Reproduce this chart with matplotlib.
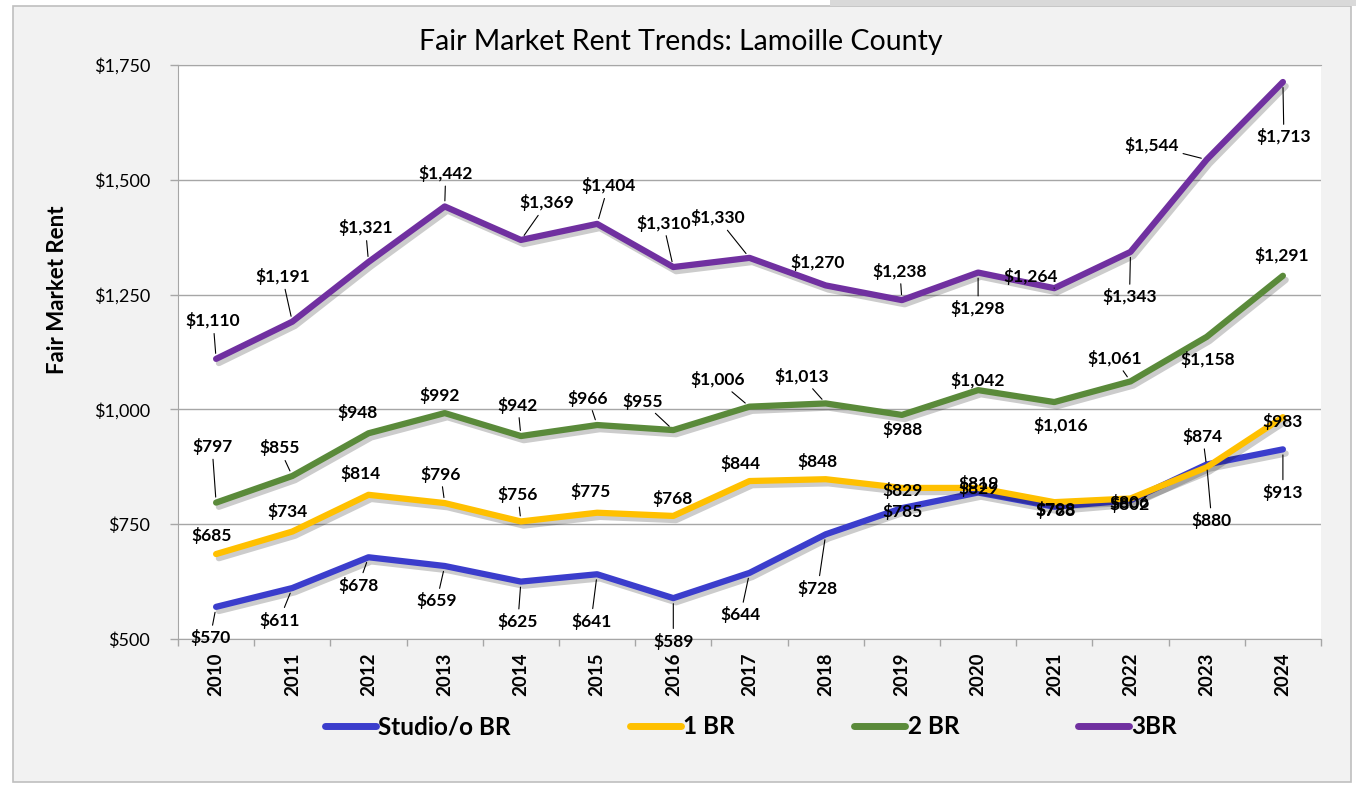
import numpy as np
import matplotlib
matplotlib.use("Agg")
import matplotlib.pyplot as plt
import matplotlib.patheffects as pe
from matplotlib.patches import Rectangle
from matplotlib.lines import Line2D
from matplotlib.ticker import FuncFormatter, FixedLocator

plt.rcParams['font.family'] = ['Lato', 'DejaVu Sans']

# fair market rent by year, Lamoille County
years = ['2010', '2011', '2012', '2013', '2014', '2015', '2016', '2017',
         '2018', '2019', '2020', '2021', '2022', '2023', '2024']
studio = [570, 611, 678, 659, 625, 641, 589, 644, 728, 785, 819, 788, 802, 880, 913]
br1 = [685, 734, 814, 796, 756, 775, 768, 844, 848, 829, 829, 798, 806, 874, 983]
br2 = [797, 855, 948, 992, 942, 966, 955, 1006, 1013, 988, 1042, 1016, 1061, 1158, 1291]
br3 = [1110, 1191, 1321, 1442, 1369, 1404, 1310, 1330, 1270, 1238, 1298, 1264, 1343, 1544, 1713]
series_names = ['Studio/o BR', '1 BR', '2 BR', '3BR']

# label offsets in pixels (dx right, dy down)
off_studio = [(-6, 31), (-13, 32), (-10, 28), (-8, 35), (-3, 40), (-6, 47), (0, 43), (-9, 42),
              (-8, 54), (1, 3), (0, -9), (1, 4), (-1, 4), (5, 56), (0, 43)]
off_br1 = [(-5, -19), (-5, -20), (-8, -21), (-4, -29), (-3, -27), (-7, -21), (-1, -17), (-9, -18),
           (-8, -18), (1, 3), (0, 1), (1, 7), (-1, 4), (-4, -31), (0, 4)]
off_br2 = [(-4, -56), (-13, -28), (-11, -21), (-5, -18), (-3, -31), (-9, -27), (-31, -29), (-32, -27),
           (-24, -27), (1, 15), (-1, -10), (6, 23), (-16, -23), (1, 23), (-1, -20)]
off_br3 = [(-3, -38), (-10, -45), (-3, -34), (1, -33), (26, -37), (11, -38), (-10, -44), (-32, -40),
           (-8, -23), (-2, -29), (0, 36), (-24, -12), (-1, 45), (-55, -14), (1, 55)]

colors = ['#3b3dcc', '#ffc000', '#5a8a3a', '#7030a0']

W, H = 1356, 785
fig = plt.figure(figsize=(W / 100, H / 100), dpi=100)
fig.patch.set_facecolor('white')

# grey panel behind the chart
fig.add_artist(Rectangle((13 / W, 1 - 782 / H), (1351 - 13) / W, (782 - 6) / H,
                         transform=fig.transFigure, facecolor='#f2f2f2',
                         edgecolor='#bfbfbf', lw=1.2, zorder=-5))
fig.add_artist(Rectangle((830 / W, 1 - 6 / H), (W - 830) / W, 6 / H,
                         transform=fig.transFigure, facecolor='#d9d9d9',
                         edgecolor='none', zorder=-5))

ax = fig.add_axes([178 / W, 1 - 639 / H, (1321 - 178) / W, (639 - 65) / H])
ax.set_facecolor('white')

x = np.arange(len(years))
shadow = [pe.SimpleLineShadow(offset=(2, -3), shadow_color='black', alpha=0.2), pe.Normal()]
all_series = [studio, br1, br2, br3]
all_offsets = [off_studio, off_br1, off_br2, off_br3]
for vals, col in zip(all_series, colors):
    ax.plot(x, vals, color=col, lw=4.5, solid_capstyle='round', solid_joinstyle='round',
            path_effects=shadow, zorder=3)

for vals, offs in zip(all_series, all_offsets):
    for i, (v, (dx, dy)) in enumerate(zip(vals, offs)):
        arrow = None
        if np.hypot(dx, dy) > 26:
            arrow = dict(arrowstyle='-', color='black', lw=0.8, shrinkA=1, shrinkB=4)
        ax.annotate(f'${v:,}', xy=(i, v), xytext=(dx, -dy), textcoords='offset pixels',
                    ha='center', va='center', fontsize=12.5, fontweight='bold',
                    color='black', arrowprops=arrow, zorder=5)

ax.set_xlim(-0.5, len(years) - 0.5)
ax.set_ylim(500, 1750)
ax.set_yticks(np.arange(500, 1751, 250))
ax.yaxis.set_major_formatter(FuncFormatter(lambda v, p: f'${v:,.0f}'))
ax.set_xticks(x)
ax.set_xticklabels(years, rotation=90, fontweight='bold', fontsize=13.5)
ax.xaxis.set_minor_locator(FixedLocator(np.arange(-0.5, len(years), 1.0)))
ax.tick_params(axis='x', which='major', length=0, pad=10)
ax.tick_params(axis='x', which='minor', length=5, color='#a6a6a6', width=1)
ax.tick_params(axis='y', length=6, color='#a6a6a6', width=1, pad=14, labelsize=13)
ax.grid(axis='y', color='#a6a6a6', lw=1)
ax.set_axisbelow(True)
ax.spines['right'].set_visible(False)
for s in ['top', 'left', 'bottom']:
    ax.spines[s].set_color('#a6a6a6')

fig.text(681 / W, 1 - 42 / H, 'Fair Market Rent Trends: Lamoille County',
         ha='center', va='center', fontsize=20.5)
fig.text(58 / W, 1 - 290 / H, 'Fair Market Rent', rotation=90,
         ha='center', va='center', fontsize=16, fontweight='bold')

# flat legend keys without the shadow
handles = [Line2D([], [], color=c, lw=5, solid_capstyle='round') for c in colors]
fig.legend(handles, series_names, loc='center', bbox_to_anchor=(751 / W, 1 - 727 / H),
           ncol=4, frameon=False, handlelength=2.1, handletextpad=0.1, columnspacing=4.9,
           prop={'weight': 'bold', 'size': 17.5})

fig.savefig('out.png', dpi=100, facecolor=fig.get_facecolor())
